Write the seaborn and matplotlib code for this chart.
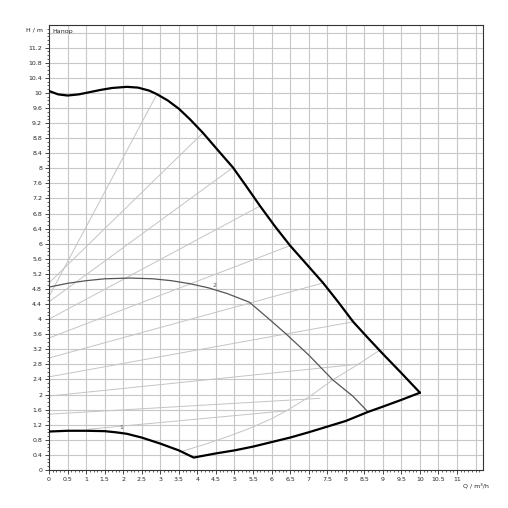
import numpy as np
import matplotlib
matplotlib.use("Agg")
import matplotlib.pyplot as plt
import seaborn as sns

max_q = [0, 0.25, 0.5, 0.8, 1.1, 1.4, 1.7, 2.1, 2.4, 2.7, 2.9, 3.2, 3.5, 3.8, 4.15, 4.5, 4.96, 5.3, 5.69, 6.1, 6.5, 6.95, 7.39, 7.8, 8.2, 8.6, 8.98, 9.5, 10.0]
max_h = [10.05, 9.96, 9.93, 9.96, 10.02, 10.08, 10.13, 10.16, 10.14, 10.06, 9.97, 9.8, 9.58, 9.3, 8.94, 8.54, 8.02, 7.55, 7.0, 6.45, 5.95, 5.45, 4.96, 4.45, 3.93, 3.5, 3.1, 2.57, 2.05]
min_q = [0, 0.5, 1.0, 1.5, 1.8, 2.1, 2.5, 3.0, 3.5, 3.9, 4.5, 5.0, 5.5, 6.0, 6.5, 7.0, 7.5, 8.0, 8.6, 9.0, 9.5, 10.0]
min_h = [1.02, 1.04, 1.04, 1.03, 1.0, 0.96, 0.86, 0.7, 0.52, 0.33, 0.44, 0.52, 0.62, 0.74, 0.86, 1.0, 1.15, 1.3, 1.54, 1.68, 1.86, 2.05]
c2_q = [0, 0.5, 1.0, 1.5, 2.2, 2.8, 3.3, 3.8, 4.3, 4.8, 5.4, 5.9, 6.4, 7.0, 7.65, 8.2, 8.6]
c2_h = [4.85, 4.95, 5.02, 5.07, 5.09, 5.07, 5.02, 4.94, 4.83, 4.68, 4.45, 4.03, 3.6, 3.05, 2.39, 1.95, 1.54]
par_q = [3.6, 4.2, 4.8, 5.4, 6.0, 6.4, 7.0, 7.65, 8.3, 8.92]
par_h = [0.5, 0.68, 0.88, 1.1, 1.36, 1.57, 1.93, 2.39, 2.78, 3.18]
seg_q0 = [0, 0, 0, 0, 0, 0, 0, 0, 0, 1.05]
seg_h0 = [4.6, 4.96, 4.46, 4.0, 3.5, 2.97, 2.47, 1.96, 1.48, 1.08]
seg_q1 = [2.9, 4.15, 4.96, 5.69, 6.5, 7.39, 8.2, 8.38, 7.3, 6.4]
seg_h1 = [9.95, 8.94, 8.02, 7.0, 5.95, 4.96, 3.93, 2.81, 1.9, 1.57]

sns.set_style("white")
plt.rcParams['font.family'] = ['DejaVu Sans']
fig = plt.figure(figsize=(5.08, 5.08), dpi=100)
ax = fig.add_axes([49/508, 38/508, 434/508, 445/508])
ax.set_xlim(0, 11.7)
ax.set_ylim(0, 11.8)
for x in np.arange(0.5, 11.6, 0.5):
    ax.axvline(x, color="#c8c8c8", lw=0.8, zorder=0)
for y in np.arange(0.4, 11.7, 0.4):
    ax.axhline(y, color="#c8c8c8", lw=0.8, zorder=0)

for a, b, c, d in zip(seg_q0, seg_h0, seg_q1, seg_h1):
    ax.plot([a, c], [b, d], color="#c4c4c4", lw=0.7, zorder=1)
sns.lineplot(x=par_q, y=par_h, ax=ax, color="#c4c4c4", lw=0.7, zorder=1)
sns.lineplot(x=c2_q, y=c2_h, ax=ax, color="#555555", lw=0.9, zorder=2)
sns.lineplot(x=max_q, y=max_h, ax=ax, color="black", lw=1.6, zorder=3)
sns.lineplot(x=min_q, y=min_h, ax=ax, color="black", lw=1.6, zorder=3)
ax.text(4.4, 4.85, "2", fontsize=4.5, color="#555555")
ax.text(1.9, 1.1, "1", fontsize=4.5, color="#555555")
ax.text(0.1, 11.58, "Напор", fontsize=4.5)

xt = np.arange(0, 11.01, 0.5)
yt = np.arange(0, 11.21, 0.4)
ax.set_xticks(xt)
ax.set_xticklabels([f"{v:g}" for v in xt], fontsize=4.5)
ax.set_yticks(yt)
ax.set_yticklabels([f"{round(v, 1):g}" for v in yt], fontsize=4.5)
ax.set_xticks(np.arange(0, 11.7, 0.1), minor=True)
ax.set_yticks(np.arange(0, 11.8, 0.1), minor=True)
ax.tick_params(which="major", length=3, width=0.6, pad=2)
ax.tick_params(which="minor", length=1.5, width=0.5)
ax.tick_params(bottom=True, left=True, which="both")
ax.text(11.5, -0.35, "Q / m³/h", fontsize=4.5, ha="center", va="top")
ax.text(-0.15, 11.67, "H / m", fontsize=4.5, ha="right", va="center")
for s in ax.spines.values():
    s.set_color("#333333"); s.set_linewidth(0.8)
fig.savefig("out.png", dpi=100, facecolor="white")
